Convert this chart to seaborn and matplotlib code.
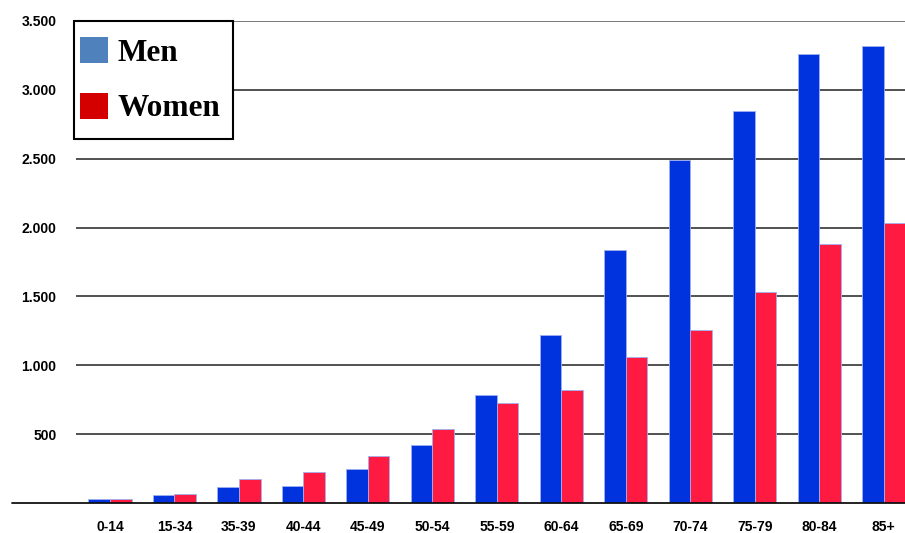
import matplotlib
matplotlib.use("Agg")
import matplotlib.pyplot as plt
from matplotlib.patches import Patch, Rectangle
import pandas as pd
import seaborn as sns

age_groups = ["0-14", "15-34", "35-39", "40-44", "45-49", "50-54", "55-59",
              "60-64", "65-69", "70-74", "75-79", "80-84", "85+"]
men = [27, 60, 116, 126, 249, 423, 783, 1219, 1836, 2494, 2845, 3264, 3322]
women = [27, 67, 174, 225, 339, 537, 726, 820, 1060, 1255, 1531, 1880, 2032]
y_ticks = [500, 1000, 1500, 2000, 2500, 3000, 3500]
y_tick_labels = ["500", "1.000", "1.500", "2.000", "2.500", "3.000", "3.500"]

bar_colors = {"Men": "#0033DD", "Women": "#FF1A42"}
legend_colors = {"Men": "#4F81BD", "Women": "#D40000"}

df = pd.DataFrame({
    "age": age_groups * 2,
    "value": men + women,
    "sex": ["Men"] * len(men) + ["Women"] * len(women),
})

sns.set_style("white")
plt.rcParams["font.family"] = ["Liberation Sans", "DejaVu Sans"]
plt.rcParams["text.color"] = "black"

W, H = 905, 533
fig = plt.figure(figsize=(W / 100, H / 100), dpi=100)
ax = fig.add_axes([76 / W, 30 / H, 1 - 76 / W, (503 - 21) / H])

sns.barplot(data=df, x="age", y="value", hue="sex", palette=bar_colors,
            width=0.67, gap=0, saturation=1, legend=False, ax=ax,
            linewidth=0.6, edgecolor="#9FB0F0", zorder=3)

ax.set_ylim(0, 3500)
ax.set_xlim(-0.527, 12.33)
ax.set_yticks(y_ticks)
ax.set_yticklabels(y_tick_labels)
ax.set_xlabel("")
ax.set_ylabel("")

for v in y_ticks:
    ax.axhline(v, color="#555555" if v == 3500 else "#222222", lw=1.1, zorder=1)
# baseline runs further left than the gridlines
ax.plot([-64 / 829, 1], [0, 0], transform=ax.get_yaxis_transform(),
        color="#111111", lw=1.3, clip_on=False, zorder=4)

for s in ax.spines.values():
    s.set_visible(False)
ax.tick_params(axis="both", length=0)
ax.tick_params(axis="y", pad=14)
ax.tick_params(axis="x", pad=12)
for lbl in ax.get_xticklabels() + ax.get_yticklabels():
    lbl.set_fontweight("bold")
    lbl.set_fontsize(10)
    lbl.set_color("black")

# legend box drawn separately so its padding can differ per side
fig.patches.append(Rectangle((74 / W, 1 - 139 / H), 159 / W, 118 / H,
                             transform=fig.transFigure, facecolor="white",
                             edgecolor="black", linewidth=1.5, zorder=4))

handles = [Patch(facecolor=legend_colors[k], edgecolor="none", label=k)
           for k in ["Men", "Women"]]
leg = fig.legend(handles=handles, loc="upper left",
                 bbox_to_anchor=(80 / W, 1 - 37 / H), borderaxespad=0,
                 prop={"family": ["Liberation Serif", "DejaVu Serif"],
                       "weight": "bold", "size": 22.5},
                 handlelength=0.9, handleheight=0.9, handletextpad=0.3,
                 labelspacing=0.8, borderpad=0, frameon=False)
leg.set_zorder(5)
for t in leg.get_texts():
    t.set_color("black")

fig.savefig("out.png", dpi=100, facecolor="white")
